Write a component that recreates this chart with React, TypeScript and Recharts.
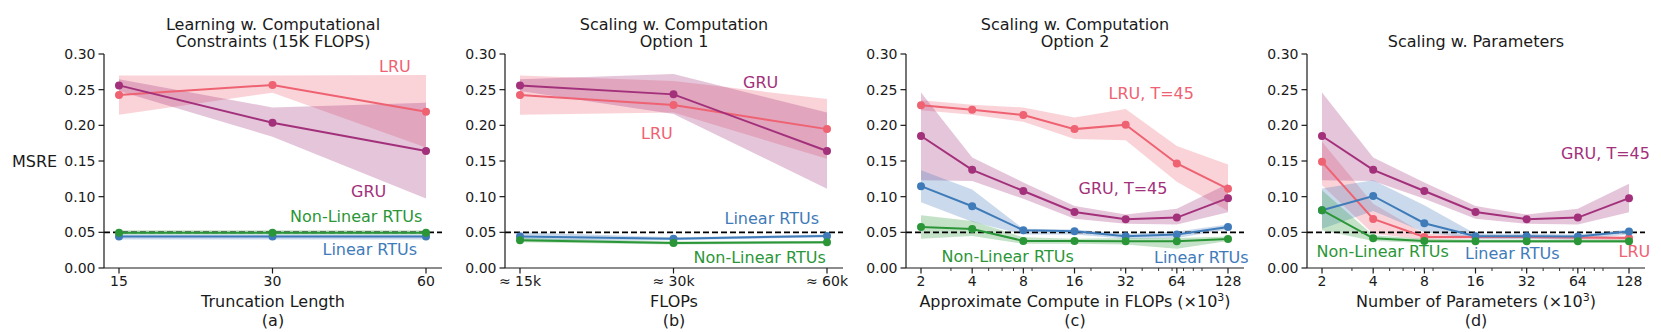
import React from "react"
import { Area, ComposedChart, Line, ReferenceLine, XAxis, YAxis } from "recharts"

// series colours
const LRU = "#ee6272"
const GRU = "#a3307b"
const LIN = "#3f7bb9"
const NON = "#2b9638"
const INK = "#1a1a1a"
const FONT = "'DejaVu Sans', sans-serif"

const truncLengths = ["15", "30", "60"]
const flopLabels = ["≈ 15k", "≈ 30k", "≈ 60k"]
const sizes = [2, 4, 8, 16, 32, 64, 128]
const minorTicks = [3, 5, 6, 7, 9, 20, 30, 40, 50, 60, 70, 80, 90]
const yTicks = [0, 0.05, 0.1, 0.15, 0.2, 0.25, 0.3]

// (a) truncation length
const aLru = [0.2425, 0.2565, 0.219]
const aLruLo = [0.215, 0.2457, 0.169]
const aLruHi = [0.27, 0.27, 0.2705]
const aGru = [0.256, 0.2036, 0.164]
const aGruLo = [0.248, 0.184, 0.0974]
const aGruHi = [0.2645, 0.225, 0.2316]
const aLin = [0.044, 0.044, 0.044]
const aLinLo = [0.04, 0.04, 0.04]
const aLinHi = [0.047, 0.047, 0.047]
const aNon = [0.0495, 0.0495, 0.0495]
const aNonLo = [0.047, 0.047, 0.047]
const aNonHi = [0.053, 0.053, 0.053]

// (b) computation, option 1
const bLru = [0.2425, 0.2284, 0.1947]
const bLruLo = [0.215, 0.218, 0.153]
const bLruHi = [0.27, 0.262, 0.237]
const bGru = [0.256, 0.2434, 0.164]
const bGruLo = [0.248, 0.216, 0.111]
const bGruHi = [0.2645, 0.272, 0.218]
const bLin = [0.044, 0.041, 0.045]
const bLinLo = [0.038, 0.039, 0.043]
const bLinHi = [0.05, 0.043, 0.047]
const bNon = [0.039, 0.035, 0.036]
const bNonLo = [0.036, 0.033, 0.034]
const bNonHi = [0.042, 0.037, 0.038]

// (c) computation, option 2
const cLru = [0.228, 0.222, 0.2144, 0.1947, 0.2008, 0.1466, 0.111]
const cLruLo = [0.221, 0.215, 0.205, 0.181, 0.179, 0.121, 0.08]
const cLruHi = [0.235, 0.229, 0.225, 0.211, 0.223, 0.171, 0.145]
const cGru = [0.185, 0.1376, 0.108, 0.0786, 0.0684, 0.0707, 0.0979]
const cGruLo = [0.123, 0.122, 0.097, 0.069, 0.062, 0.061, 0.078]
const cGruHi = [0.246, 0.155, 0.12, 0.087, 0.075, 0.083, 0.118]
const cLin = [0.1147, 0.0866, 0.0529, 0.0515, 0.0445, 0.0469, 0.0576]
const cLinLo = [0.092, 0.065, 0.047, 0.047, 0.041, 0.042, 0.054]
const cLinHi = [0.137, 0.11, 0.055, 0.054, 0.048, 0.051, 0.061]
const cNon = [0.0576, 0.0548, 0.038, 0.0377, 0.0375, 0.0375, 0.0408]
const cNonLo = [0.041, 0.045, 0.034, 0.034, 0.033, 0.027, 0.038]
const cNonHi = [0.074, 0.066, 0.043, 0.041, 0.042, 0.042, 0.044]

// (d) parameters
const dLru = [0.1488, 0.0688, 0.0435, 0.0435, 0.0435, 0.0426, 0.042]
const dLruLo = [0.116, 0.048, 0.04, 0.041, 0.041, 0.04, 0.039]
const dLruHi = [0.177, 0.09, 0.048, 0.046, 0.046, 0.045, 0.045]
const dGru = [0.185, 0.1376, 0.108, 0.0786, 0.0684, 0.0707, 0.0979]
const dGruLo = [0.123, 0.122, 0.097, 0.069, 0.062, 0.061, 0.078]
const dGruHi = [0.246, 0.155, 0.12, 0.087, 0.075, 0.083, 0.118]
const dLin = [0.081, 0.101, 0.0628, 0.0445, 0.0445, 0.044, 0.051]
const dLinLo = [0.055, 0.08, 0.05, 0.041, 0.041, 0.04, 0.047]
const dLinHi = [0.1115, 0.123, 0.088, 0.048, 0.048, 0.047, 0.054]
const dNon = [0.081, 0.0417, 0.038, 0.0375, 0.0375, 0.0375, 0.0375]
const dNonLo = [0.053, 0.038, 0.035, 0.035, 0.035, 0.035, 0.035]
const dNonHi = [0.109, 0.046, 0.041, 0.04, 0.04, 0.04, 0.04]

type Series = { key: string; color: string; mean: number[]; lo: number[]; hi: number[] }

function makeRows(xs: (string | number)[], series: Series[]) {
  return xs.map((x, i) => {
    const row: any = { x }
    series.forEach((s) => {
      row[s.key] = s.mean[i]
      row[s.key + "Band"] = [s.lo[i], s.hi[i]]
    })
    return row
  })
}

const aSeries: Series[] = [
  { key: "lru", color: LRU, mean: aLru, lo: aLruLo, hi: aLruHi },
  { key: "gru", color: GRU, mean: aGru, lo: aGruLo, hi: aGruHi },
  { key: "lin", color: LIN, mean: aLin, lo: aLinLo, hi: aLinHi },
  { key: "non", color: NON, mean: aNon, lo: aNonLo, hi: aNonHi },
]
const bSeries: Series[] = [
  { key: "lru", color: LRU, mean: bLru, lo: bLruLo, hi: bLruHi },
  { key: "gru", color: GRU, mean: bGru, lo: bGruLo, hi: bGruHi },
  { key: "lin", color: LIN, mean: bLin, lo: bLinLo, hi: bLinHi },
  { key: "non", color: NON, mean: bNon, lo: bNonLo, hi: bNonHi },
]
const cSeries: Series[] = [
  { key: "lru", color: LRU, mean: cLru, lo: cLruLo, hi: cLruHi },
  { key: "gru", color: GRU, mean: cGru, lo: cGruLo, hi: cGruHi },
  { key: "lin", color: LIN, mean: cLin, lo: cLinLo, hi: cLinHi },
  { key: "non", color: NON, mean: cNon, lo: cNonLo, hi: cNonHi },
]
const dSeries: Series[] = [
  { key: "lru", color: LRU, mean: dLru, lo: dLruLo, hi: dLruHi },
  { key: "gru", color: GRU, mean: dGru, lo: dGruLo, hi: dGruHi },
  { key: "lin", color: LIN, mean: dLin, lo: dLinLo, hi: dLinHi },
  { key: "non", color: NON, mean: dNon, lo: dNonLo, hi: dNonHi },
]

function Tick(props: any) {
  const { x, y, payload } = props
  const minor = minorTicks.includes(payload.value)
  return (
    <g>
      <line x1={x} x2={x} y1={y} y2={y + (minor ? 3 : 5.5)} stroke={INK} strokeWidth={minor ? 0.9 : 1.2} />
      {!minor && (
        <text x={x} y={y + 18} textAnchor="middle" fontSize={14} fill={INK} fontFamily={FONT}>
          {payload.value}
        </text>
      )}
    </g>
  )
}

const PLOT_W = 338
const YW = 70

function Panel({ left, xs, series, log }: { left: number; xs: (string | number)[]; series: Series[]; log?: boolean }) {
  const data = makeRows(xs, series)
  return (
    <div style={{ position: "absolute", left: left - YW, top: 0 }}>
      <ComposedChart width={YW + PLOT_W + 5} height={332} data={data} margin={{ top: 54, right: 5, bottom: 34, left: 0 }}>
        {log ? (
          <XAxis
            dataKey="x"
            type="number"
            scale="log"
            domain={[1.632, 158.97]}
            allowDataOverflow
            ticks={[...sizes, ...minorTicks]}
            interval={0}
            tick={<Tick />}
            tickLine={false}
            tickSize={0}
            tickMargin={0}
            height={30}
            axisLine={{ stroke: INK, strokeWidth: 1.2 }}
          />
        ) : (
          <XAxis
            dataKey="x"
            type="category"
            padding={{ left: 15, right: 16 }}
            interval={0}
            tick={<Tick />}
            tickLine={false}
            tickSize={0}
            tickMargin={0}
            height={30}
            axisLine={{ stroke: INK, strokeWidth: 1.2 }}
          />
        )}
        <YAxis
          domain={[0, 0.3]}
          ticks={yTicks}
          interval={0}
          width={YW}
          tickFormatter={(v: number) => v.toFixed(2)}
          tick={{ fontSize: 14, fill: INK, fontFamily: FONT }}
          tickSize={5.5}
          tickMargin={3}
          axisLine={{ stroke: INK, strokeWidth: 1.2 }}
          tickLine={{ stroke: INK, strokeWidth: 1.2 }}
        />
        {series.map((s) => (
          <Area
            key={s.key + "Band"}
            type="linear"
            dataKey={s.key + "Band"}
            fill={s.color}
            fillOpacity={0.28}
            stroke="none"
            activeDot={false}
            isAnimationActive={false}
          />
        ))}
        <ReferenceLine y={0.05} stroke="#000" strokeWidth={1.8} strokeDasharray="6 3" />
        {series.map((s) => (
          <Line
            key={s.key}
            type="linear"
            dataKey={s.key}
            stroke={s.color}
            strokeWidth={2}
            dot={{ r: 4, fill: s.color, stroke: s.color, strokeWidth: 0 }}
            activeDot={false}
            isAnimationActive={false}
          />
        ))}
      </ComposedChart>
    </div>
  )
}

type Note = { text: string; x: number; y: number; color: string }

const notes: Note[] = [
  { text: "LRU", x: 379, y: 71.7, color: LRU },
  { text: "GRU", x: 351, y: 197.3, color: GRU },
  { text: "Non-Linear RTUs", x: 290, y: 222.3, color: NON },
  { text: "Linear RTUs", x: 322.5, y: 255, color: LIN },
  { text: "GRU", x: 743, y: 88.3, color: GRU },
  { text: "LRU", x: 641, y: 139.3, color: LRU },
  { text: "Linear RTUs", x: 724.5, y: 224.3, color: LIN },
  { text: "Non-Linear RTUs", x: 693.5, y: 263.3, color: NON },
  { text: "LRU, T=45", x: 1108.5, y: 99.3, color: LRU },
  { text: "GRU, T=45", x: 1078.5, y: 194, color: GRU },
  { text: "Non-Linear RTUs", x: 941.5, y: 261.7, color: NON },
  { text: "Linear RTUs", x: 1154, y: 263.3, color: LIN },
  { text: "GRU, T=45", x: 1561, y: 159.3, color: GRU },
  { text: "Non-Linear RTUs", x: 1316.5, y: 257.3, color: NON },
  { text: "Linear RTUs", x: 1465, y: 259.3, color: LIN },
  { text: "LRU", x: 1618.5, y: 257.3, color: LRU },
]

const panelLefts = [104, 505, 906, 1307]
const titles = [
  ["Learning w. Computational", "Constraints (15K FLOPS)"],
  ["Scaling w. Computation", "Option 1"],
  ["Scaling w. Computation", "Option 2"],
  ["Scaling w. Parameters"],
]
const xLabels = ["Truncation Length", "FLOPs", "Approximate Compute in FLOPs (×10", "Number of Parameters (×10"]
const letters = ["(a)", "(b)", "(c)", "(d)"]

export default function App() {
  return (
    <div style={{ position: "fixed", left: 0, top: 0, width: 1661, height: 332, background: "#fff", fontFamily: FONT }}>
      <Panel left={panelLefts[0]} xs={truncLengths} series={aSeries} />
      <Panel left={panelLefts[1]} xs={flopLabels} series={bSeries} />
      <Panel left={panelLefts[2]} xs={sizes} series={cSeries} log />
      <Panel left={panelLefts[3]} xs={sizes} series={dSeries} log />
      <svg width={1661} height={332} style={{ position: "absolute", left: 0, top: 0, pointerEvents: "none" }} fontFamily={FONT}>
        <text x={12} y={166.7} fontSize={16} fill={INK}>MSRE</text>
        {panelLefts.map((l, i) => {
          const cx = l + PLOT_W / 2
          const t = titles[i]
          const sup = i >= 2
          return (
            <g key={i} fill={INK}>
              {t.length === 2 ? (
                <>
                  <text x={cx} y={29.5} fontSize={16} textAnchor="middle">{t[0]}</text>
                  <text x={cx} y={46.7} fontSize={16} textAnchor="middle">{t[1]}</text>
                </>
              ) : (
                <text x={cx} y={46.7} fontSize={16} textAnchor="middle">{t[0]}</text>
              )}
              <text x={cx} y={306.5} fontSize={16} textAnchor="middle">
                {xLabels[i]}
                {sup && (
                  <>
                    <tspan dy={-6} fontSize={11}>3</tspan>
                    <tspan dy={6}>)</tspan>
                  </>
                )}
              </text>
              <text x={cx} y={325.5} fontSize={16} textAnchor="middle">{letters[i]}</text>
            </g>
          )
        })}
        {notes.map((n, i) => (
          <text key={i} x={n.x} y={n.y} fontSize={16} fill={n.color}>{n.text}</text>
        ))}
      </svg>
    </div>
  )
}
